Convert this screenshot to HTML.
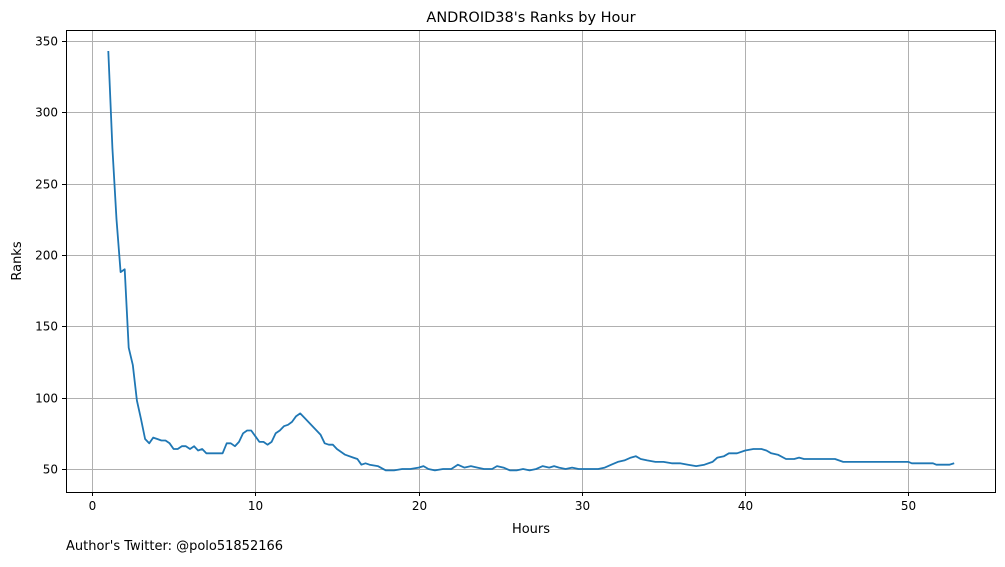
<!DOCTYPE html>
<html><head><meta charset="utf-8"><style>
body{margin:0;background:#fff;font-family:"Liberation Sans","DejaVu Sans",sans-serif}
svg text{font-family:"DejaVu Sans","Liberation Sans",sans-serif;fill:#000}
</style></head><body>
<svg id="chart" width="1005" height="562" xmlns="http://www.w3.org/2000/svg">
<rect width="1005" height="562" fill="#fff"/>
<g id="grid"></g>
<g id="ticks"></g>
<path id="line" fill="none" stroke="#1f77b4" stroke-width="1.8" stroke-linejoin="round"/>
<rect x="66.5" y="30.5" width="929" height="462" fill="none" stroke="#000" stroke-width="1"/>
<text x="531" y="22" font-size="14.5" text-anchor="middle">ANDROID38's Ranks by Hour</text>
<text x="531" y="533" font-size="13" text-anchor="middle">Hours</text>
<text x="21" y="261" font-size="13" text-anchor="middle" transform="rotate(-90 21 261)">Ranks</text>
<text x="66" y="550" font-size="13">Author's Twitter: @polo51852166</text>
</svg>
<script>
const hours=[1.0,1.25,1.5,1.75,2.0,2.25,2.5,2.75,3.0,3.25,3.5,3.75,4,4.25,4.5,4.75,5,5.25,5.5,5.75,6,6.25,6.5,6.75,7,7.5,8,8.25,8.5,8.75,9,9.25,9.5,9.75,10,10.25,10.5,10.75,11,11.25,11.5,11.75,12,12.25,12.5,12.75,13,13.5,14,14.25,14.5,14.75,15,15.5,16,16.25,16.5,16.75,17,17.5,18,18.5,19,19.5,20,20.3,20.6,21,21.5,22,22.4,22.8,23.2,23.6,24,24.5,24.8,25.2,25.6,26,26.4,26.8,27.2,27.6,28,28.3,28.6,29,29.4,29.8,30,31,31.4,31.8,32.2,32.6,33,33.3,33.6,34,34.5,35,35.5,36,36.5,37,37.5,38,38.3,38.7,39,39.5,40,40.5,41,41.3,41.6,42,42.5,43,43.3,43.6,44,45,45.5,46,47,48,49,50,50.2,51,51.5,51.7,52,52.5,52.8];
const ranks=[343,275,225,188,190,135,123,98,85,71,68,72,71,70,70,68,64,64,66,66,64,66,63,64,61,61,61,68,68,66,69,75,77,77,73,69,69,67,69,75,77,80,81,83,87,89,86,80,74,68,67,67,64,60,58,57,53,54,53,52,49,49,50,50,51,52,50,49,50,50,53,51,52,51,50,50,52,51,49,49,50,49,50,52,51,52,51,50,51,50,50,50,51,53,55,56,58,59,57,56,55,55,54,54,53,52,53,55,58,59,61,61,63,64,64,63,61,60,57,57,58,57,57,57,57,55,55,55,55,55,54,54,54,53,53,53,54];
const xTicks=[0,10,20,30,40,50];
const yTicks=[50,100,150,200,250,300,350];
const L=66,R=995,T=30,B=492;
const sx=v=>92+v*16.33;
const sy=v=>469-(v-50)*1.4267;
const NS="http://www.w3.org/2000/svg";
const grid=document.getElementById('grid'),ticks=document.getElementById('ticks');
function mk(tag,attrs,parent){const e=document.createElementNS(NS,tag);for(const k in attrs)e.setAttribute(k,attrs[k]);parent.appendChild(e);return e;}
xTicks.forEach(t=>{const x=Math.round(sx(t))+0.5;
 const g=mk('line',{x1:x,x2:x,y1:T,y2:B,stroke:'#b0b0b0','stroke-width':1},grid);
 
 
 mk('line',{x1:x,x2:x,y1:B,y2:B+4,stroke:'#000'},ticks);
 const tx=mk('text',{x:x,y:B+18,'font-size':12,'text-anchor':'middle'},ticks);tx.textContent=t;
 
 
});
yTicks.forEach(t=>{const y=Math.round(sy(t))+0.5;
 const g=mk('line',{x1:L,x2:R,y1:y,y2:y,stroke:'#b0b0b0','stroke-width':1},grid);
 
 
 mk('line',{x1:L-4,x2:L,y1:y,y2:y,stroke:'#000'},ticks);
 const tx=mk('text',{x:L-8,y:y+4,'font-size':12,'text-anchor':'end'},ticks);tx.textContent=t;
 
 
});
document.getElementById('line').setAttribute('d',hours.map((h,i)=>(i?'L':'M')+sx(h).toFixed(1)+','+sy(ranks[i]).toFixed(1)).join(''));
</script>
</body></html>
